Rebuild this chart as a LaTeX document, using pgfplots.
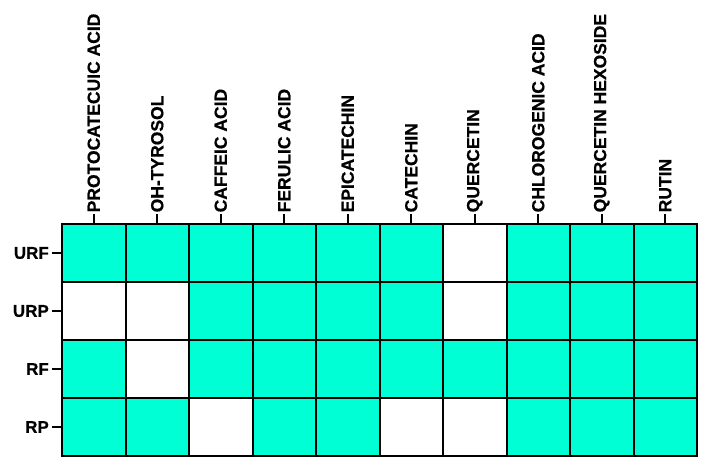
\documentclass[border=0pt]{standalone}
\usepackage{pgfplots}
\pgfplotsset{compat=1.18}
\usepackage{fontspec}
\setmainfont{Liberation Sans}
\newfontfamily\hv{Liberation Sans}[UprightFont=*, BoldFont=* Bold, BoldFeatures={FakeBold=0.7}]
\definecolor{cellteal}{RGB}{0,255,212}
\begin{document}
\begin{tikzpicture}
\begin{axis}[
  scale only axis,
  width=635pt, height=232pt,
  xmin=-0.5, xmax=9.5, ymin=-0.5, ymax=3.5,
  y dir=reverse,
  axis on top,
  axis line style={line width=2.6pt},
  xtick={0,...,9},
  xticklabels={PROTOCATECUIC ACID, OH-TYROSOL, CAFFEIC ACID, FERULIC ACID, EPICATECHIN, CATECHIN, QUERCETIN, CHLOROGENIC ACID, QUERCETIN HEXOSIDE, RUTIN},
  ytick={0,...,3},
  yticklabels={URF, URP, RF, RP},
  xtick pos=right, ytick pos=left,
  xticklabel pos=right,
  tick align=outside,
  major tick length=10pt,
  major tick style={line width=2.4pt, black},
  minor xtick={0.5,1.5,...,8.5},
  minor ytick={0.5,1.5,2.5},
  minor tick length=0pt,
  minor grid style={black, line width=2pt},
  xminorgrids, yminorgrids,
  xticklabel style={rotate=90, anchor=west, font=\hv\fontsize{17.5}{19}\selectfont\bfseries, inner sep=1.5pt},
  yticklabel style={font=\hv\fontsize{17}{19}\selectfont\bfseries, inner sep=3pt},
  colormap={wt}{color(0)=(white) color(1)=(cellteal)},
  point meta min=0, point meta max=1,
]
\addplot[matrix plot*, mesh/cols=10, point meta=explicit, shader=flat corner] table[meta=c] {
x y c
0 0 1
1 0 1
2 0 1
3 0 1
4 0 1
5 0 1
6 0 0
7 0 1
8 0 1
9 0 1
0 1 0
1 1 0
2 1 1
3 1 1
4 1 1
5 1 1
6 1 0
7 1 1
8 1 1
9 1 1
0 2 1
1 2 0
2 2 1
3 2 1
4 2 1
5 2 1
6 2 1
7 2 1
8 2 1
9 2 1
0 3 1
1 3 1
2 3 0
3 3 1
4 3 1
5 3 0
6 3 0
7 3 1
8 3 1
9 3 1
};
\end{axis}
\path (current axis.south west) ++(-62pt,-15pt) coordinate (bbA);
\path (current axis.north east) ++(14pt,224pt) coordinate (bbB);
\path (bbA) rectangle (bbB);
\end{tikzpicture}
\end{document}
